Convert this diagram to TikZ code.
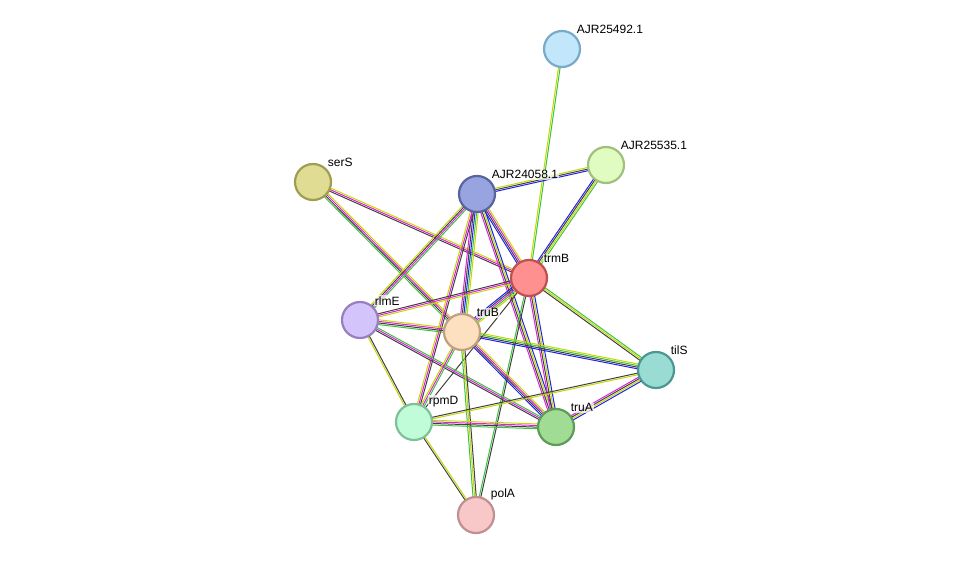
\documentclass[tikz,border=0pt]{standalone}
\usepackage{fontspec}
\setmainfont{Liberation Sans}
\usetikzlibrary{calc}
\definecolor{eg}{HTML}{3CC43C}
\definecolor{ey}{HTML}{C4D800}
\definecolor{ek}{HTML}{404040}
\definecolor{em}{HTML}{E020E0}
\definecolor{eb}{HTML}{2020F0}
\tikzset{
  prot/.style={circle, minimum size=18pt, line width=1.1pt, inner sep=0pt},
  lbl/.style={anchor=south west, inner sep=0.5pt, fill=white, fill opacity=0.7, text opacity=1, font=\fontsize{6}{7}\selectfont},
}
% parallel coloured lines between two nodes
\newcommand\edge[4]{%
  \foreach \c [count=\i] in {#4}{%
    \pgfmathsetmacro\off{(\i-(#3+1)/2)*0.8}
    \draw[\c, line width=0.5pt] ($(#1)!\off pt!90:(#2)$) -- ($(#2)!\off pt!-90:(#1)$);
  }}
\begin{document}
\begin{tikzpicture}[x=0.5pt, y=-0.5pt]
  \useasboundingbox (0,0) rectangle (975,561);
  \coordinate (AJR25492) at (562,49);
  \coordinate (AJR25535) at (606,165);
  \coordinate (serS) at (313,182);
  \coordinate (AJR24058) at (477,194);
  \coordinate (trmB) at (529,278);
  \coordinate (rlmE) at (360,320);
  \coordinate (truB) at (462,332);
  \coordinate (tilS) at (656,370);
  \coordinate (rpmD) at (414,422);
  \coordinate (truA) at (556,427);
  \coordinate (polA) at (476,515);
  % edges
  \edge{AJR25492}{trmB}{2}{ey,eg}
  \edge{AJR24058}{AJR25535}{3}{eb,ek,ey}
  \edge{AJR25535}{trmB}{4}{eb,ek,ey,eg}
  \edge{serS}{trmB}{3}{ek,em,ey}
  \edge{serS}{truB}{4}{eg,ek,em,ey}
  \edge{AJR24058}{rlmE}{4}{ey,ek,em,eg}
  \edge{AJR24058}{trmB}{4}{eb,ek,em,ey}
  \edge{AJR24058}{truB}{5}{em,ek,eb,eg,ey}
  \edge{AJR24058}{rpmD}{3}{ey,em,ek}
  \edge{AJR24058}{truA}{4}{em,ek,ey,eb}
  \edge{trmB}{rlmE}{3}{ek,em,ey}
  \edge{trmB}{truB}{5}{eb,ek,em,eg,ey}
  \edge{trmB}{tilS}{3}{ek,ey,eg}
  \edge{trmB}{truA}{4}{em,ek,ey,eb}
  \edge{trmB}{rpmD}{1}{ek}
  \edge{trmB}{polA}{2}{eg,ek}
  \edge{rlmE}{truB}{4}{eg,ek,em,ey}
  \edge{rlmE}{truA}{3}{ek,em,eg}
  \edge{rlmE}{rpmD}{2}{ey,ek}
  \edge{truB}{tilS}{4}{eb,ek,eg,ey}
  \edge{truB}{truA}{4}{eb,ek,em,ey}
  \edge{truB}{rpmD}{3}{ey,em,eg}
  \edge{truB}{polA}{3}{eg,ey,ek}
  \edge{rpmD}{truA}{4}{eg,ek,em,ey}
  \edge{rpmD}{tilS}{2}{ey,ek}
  \edge{rpmD}{polA}{2}{ek,ey}
  \edge{tilS}{truA}{4}{em,ek,ey,eb}
  % proteins
  \node[prot, fill={rgb,255:red,194;green,230;blue,250}, draw={rgb,255:red,122;green,170;blue,201}, label={[lbl]45:AJR25492.1}] at (AJR25492) {};
  \node[prot, fill={rgb,255:red,224;green,252;blue,192}, draw={rgb,255:red,160;green,192;blue,128}, label={[lbl]45:AJR25535.1}] at (AJR25535) {};
  \node[prot, fill={rgb,255:red,224;green,220;blue,148}, draw={rgb,255:red,160;green,156;blue,80}, label={[lbl]45:serS}] at (serS) {};
  \node[prot, fill={rgb,255:red,152;green,164;blue,224}, draw={rgb,255:red,88;green,100;blue,160}, label={[lbl]45:AJR24058.1}] at (AJR24058) {};
  \node[prot, fill={rgb,255:red,255;green,144;blue,144}, draw={rgb,255:red,192;green,80;blue,80}, label={[lbl]45:trmB}] at (trmB) {};
  \node[prot, fill={rgb,255:red,212;green,196;blue,252}, draw={rgb,255:red,152;green,128;blue,192}, label={[lbl]45:rlmE}] at (rlmE) {};
  \node[prot, fill={rgb,255:red,253;green,224;blue,192}, draw={rgb,255:red,192;green,160;blue,128}, label={[lbl]45:truB}] at (truB) {};
  \node[prot, fill={rgb,255:red,152;green,220;blue,212}, draw={rgb,255:red,76;green,152;blue,144}, label={[lbl]45:tilS}] at (tilS) {};
  \node[prot, fill={rgb,255:red,192;green,252;blue,216}, draw={rgb,255:red,128;green,192;blue,152}, label={[lbl]45:rpmD}] at (rpmD) {};
  \node[prot, fill={rgb,255:red,160;green,220;blue,148}, draw={rgb,255:red,92;green,156;blue,88}, label={[lbl]45:truA}] at (truA) {};
  \node[prot, fill={rgb,255:red,248;green,200;blue,200}, draw={rgb,255:red,192;green,144;blue,144}, label={[lbl]45:polA}] at (polA) {};
\end{tikzpicture}
\end{document}
